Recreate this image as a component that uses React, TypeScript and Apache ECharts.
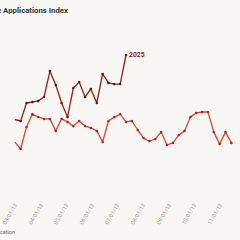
import React, { useEffect, useRef } from "react";
import * as echarts from "echarts";

// Weekly observation dates (shared axis)
const weeks = [
  "2013-02-28", "2013-03-07", "2013-03-14", "2013-03-21", "2013-03-28",
  "2013-04-04", "2013-04-11", "2013-04-18", "2013-04-25", "2013-05-02",
  "2013-05-09", "2013-05-16", "2013-05-23", "2013-05-30", "2013-06-06",
  "2013-06-13", "2013-06-20", "2013-06-27", "2013-07-04", "2013-07-11",
  "2013-07-18", "2013-07-25", "2013-08-01", "2013-08-08", "2013-08-15",
  "2013-08-22", "2013-08-29", "2013-09-05", "2013-09-12", "2013-09-19",
  "2013-09-26", "2013-10-03", "2013-10-10", "2013-10-17", "2013-10-24",
  "2013-10-31", "2013-11-07", "2013-11-14",
];

const values2025 = [
  150.5, 150.0, 156.0, 156.3, 156.7, 158.0, 166.7, 162.0, 156.0, 151.3,
  161.0, 163.0, 158.0, 160.7, 156.0, 165.7, 162.7, 162.3, 162.3, 172.0,
];

const values2024 = [
  143.0, 140.7, 148.0, 152.3, 151.3, 150.7, 150.7, 146.7, 150.7, 149.7,
  148.3, 150.0, 148.3, 147.7, 146.7, 143.0, 150.0, 151.3, 152.3, 149.7,
  150.0, 147.0, 144.3, 143.3, 144.0, 146.3, 142.0, 142.7, 145.3, 146.7,
  151.3, 152.7, 153.0, 153.0, 146.3, 142.3, 146.3, 142.7,
];

const titleText = "Purchase Applications Index";
const sourceText = "Source: MBA Weekly Application";
const endLabelText = "2025";

const toTime = (s: string) => {
  const [y, m, d] = s.split("-").map(Number);
  return new Date(y, m - 1, d).getTime();
};

export default function App() {
  const ref = useRef<HTMLDivElement>(null);
  useEffect(() => {
    if (!ref.current) return;
    const chart = echarts.init(ref.current, undefined, { renderer: "svg" });
    const DAY = 86400000;
    const xMin = toTime("2013-03-01");
    const xMax = xMin + 268.3 * DAY;
    chart.setOption({
      animation: false,
      backgroundColor: "#f8f7f3",
      grid: { left: -3, right: -10, top: 1, bottom: 41, containLabel: false },
      xAxis: {
        type: "time",
        min: xMin,
        max: xMax,
        splitNumber: 10,
        maxInterval: 31 * DAY,
        axisLine: { show: false },
        axisTick: { show: false },
        splitLine: { show: false },
        axisLabel: {
          formatter: "{MM}/{dd}/{yy}",
          rotate: 60,
          fontSize: 5.5,
          color: "#9a9a9a",
          margin: 5,
          fontFamily: "Roboto",
          hideOverlap: false,
        },
      },
      yAxis: {
        type: "value",
        min: 124,
        max: 190,
        show: false,
        splitLine: { show: false },
      },
      graphic: [
        {
          type: "text",
          x: 68,
          y: 6,
          style: {
            text: titleText,
            textAlign: "right",
            fill: "#333333",
            font: "bold 7.8px Roboto",
          },
        },
        {
          type: "text",
          x: 15,
          y: 229,
          style: {
            text: sourceText,
            textAlign: "right",
            fill: "#666666",
            font: "5.5px Roboto",
          },
        },
      ],
      series: [
        {
          name: "2024",
          type: "line",
          data: weeks.map((w, i) => [toTime(w), values2024[i]]),
          symbol: "circle",
          symbolSize: 2.5,
          lineStyle: { color: "#d8453f", width: 1.3 },
          itemStyle: { color: "#a32323" },
        },
        {
          name: "2025",
          type: "line",
          data: values2025.map((v, i) => [toTime(weeks[i]), v]),
          symbol: "circle",
          symbolSize: 2.5,
          lineStyle: { color: "#9a1c1c", width: 1.3 },
          itemStyle: { color: "#5e0e0e" },
          endLabel: {
            show: true,
            formatter: endLabelText,
            color: "#8b1a1a",
            fontWeight: "bold",
            fontSize: 6.8,
            fontFamily: "Roboto",
            distance: 3,
          },
        },
      ],
    });
    return () => chart.dispose();
  }, []);
  return (
    <div
      ref={ref}
      style={{ position: "fixed", left: 0, top: 0, width: 240, height: 240 }}
    />
  );
}
